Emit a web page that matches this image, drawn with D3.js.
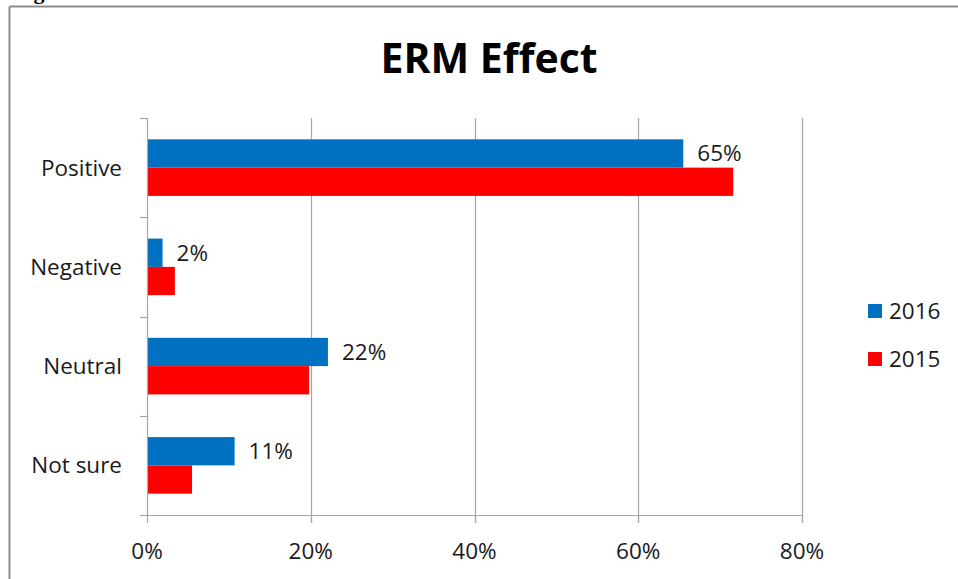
<!DOCTYPE html>
<html><head><meta charset="utf-8">
<script src="https://cdn.jsdelivr.net/npm/d3@7"></script>
<style>
html,body{margin:0;padding:0;background:#fff;}
svg{display:block;}
text{font-family:"Open Sans","Noto Sans",sans-serif;fill:#1a1a1a;}
</style></head>
<body>
<svg id="c" width="958" height="579"></svg>
<script>
const categories = ["Positive", "Negative", "Neutral", "Not sure"];
const seriesNames = ["2016", "2015"];
const values2016 = [65.5, 1.9, 22.1, 10.7];
const values2015 = [71.6, 3.4, 19.8, 5.5];
const labels2016 = ["65%", "2%", "22%", "11%"];
const xTicks = [0, 20, 40, 60, 80];
const colors = ["#0070C0", "#FF0000"];

const svg = d3.select("#c");
const W = 958, H = 579;
const FS = 22.5;
const x = d3.scaleLinear().domain([0, 80]).range([147, 802]);
const y = d3.scaleBand().domain(categories).range([118, 515]).paddingInner(0.43).paddingOuter(0.215);
const inner = d3.scaleBand().domain(seriesNames).range([0, y.bandwidth()]);

// frame
svg.append("line").attr("x1", 9.5).attr("x2", W).attr("y1", 6.5).attr("y2", 6.5).attr("stroke", "#8c8c8c").attr("stroke-width", 2);
svg.append("line").attr("x1", 9.5).attr("x2", 9.5).attr("y1", 6.5).attr("y2", H).attr("stroke", "#8c8c8c").attr("stroke-width", 2);
svg.append("text").attr("x", 14).attr("y", -1).style("font-family","Liberation Serif").attr("font-weight", "bold").attr("font-size", 22).style("fill","#000").text("Figure");

// title
svg.append("text").attr("x", 489).attr("y", 73).attr("text-anchor", "middle")
  .attr("font-weight", "bold").attr("font-size", 41).style("fill","#000").text("ERM Effect");

// gridlines
svg.append("g").selectAll("line").data(xTicks.slice(1)).join("line")
  .attr("x1", d => Math.round(x(d)) + 0.5).attr("x2", d => Math.round(x(d)) + 0.5)
  .attr("y1", 118).attr("y2", 523).attr("stroke", "#a6a6a6").attr("stroke-width", 1.2);

// bars
const series = [values2016, values2015];
series.forEach((vals, si) => {
  svg.append("g").selectAll("rect").data(categories).join("rect")
    .attr("x", x(0))
    .attr("y", (c) => y(c) + inner(seriesNames[si]))
    .attr("width", (c, i) => x(vals[i]) - x(0))
    .attr("height", inner.bandwidth())
    .attr("fill", colors[si]);
});

// data labels
svg.append("g").selectAll("text").data(categories).join("text")
  .attr("x", (c, i) => x(values2016[i]) + 14)
  .attr("y", c => y(c) + inner("2016") + inner.bandwidth() / 2 + 8)
  .attr("font-size", FS).text((c, i) => labels2016[i]);

// y axis
const yAxisG = svg.append("g");
yAxisG.append("line").attr("x1", 147.5).attr("x2", 147.5).attr("y1", 118).attr("y2", 515).attr("stroke", "#a6a6a6").attr("stroke-width", 1.2);
const bounds = categories.map(c => y(c) - y.step() * y.paddingInner() / 2).concat([515]);
bounds[0] = 118;
yAxisG.selectAll("line.t").data(bounds).join("line").attr("class", "t")
  .attr("x1", 140).attr("x2", 147.5).attr("y1", d => Math.round(d) + 0.5).attr("y2", d => Math.round(d) + 0.5)
  .attr("stroke", "#a6a6a6").attr("stroke-width", 1.2);
yAxisG.selectAll("text").data(categories).join("text")
  .attr("x", 122).attr("y", c => y(c) + y.bandwidth() / 2 + 8)
  .attr("text-anchor", "end").attr("font-size", FS).text(c => c);

// x axis
const xAxisG = svg.append("g");
xAxisG.append("line").attr("x1", 140).attr("x2", 802).attr("y1", 515.5).attr("y2", 515.5).attr("stroke", "#a6a6a6").attr("stroke-width", 1.2);
xAxisG.selectAll("line.t").data(xTicks).join("line").attr("class", "t")
  .attr("x1", d => Math.round(x(d)) + 0.5).attr("x2", d => Math.round(x(d)) + 0.5)
  .attr("y1", 515).attr("y2", 523).attr("stroke", "#a6a6a6").attr("stroke-width", 1.2);
xAxisG.selectAll("text").data(xTicks).join("text")
  .attr("x", d => x(d)).attr("y", 559).attr("text-anchor", "middle").attr("font-size", FS)
  .text(d => d + "%");

// legend
const lg = svg.append("g");
seriesNames.forEach((s, i) => {
  const ly = 311 + i * 48;
  lg.append("rect").attr("x", 868).attr("y", ly - 7).attr("width", 14).attr("height", 14).attr("fill", colors[i]);
  lg.append("text").attr("x", 889).attr("y", ly + 8).attr("font-size", FS).text(s);
});
</script>
</body></html>
